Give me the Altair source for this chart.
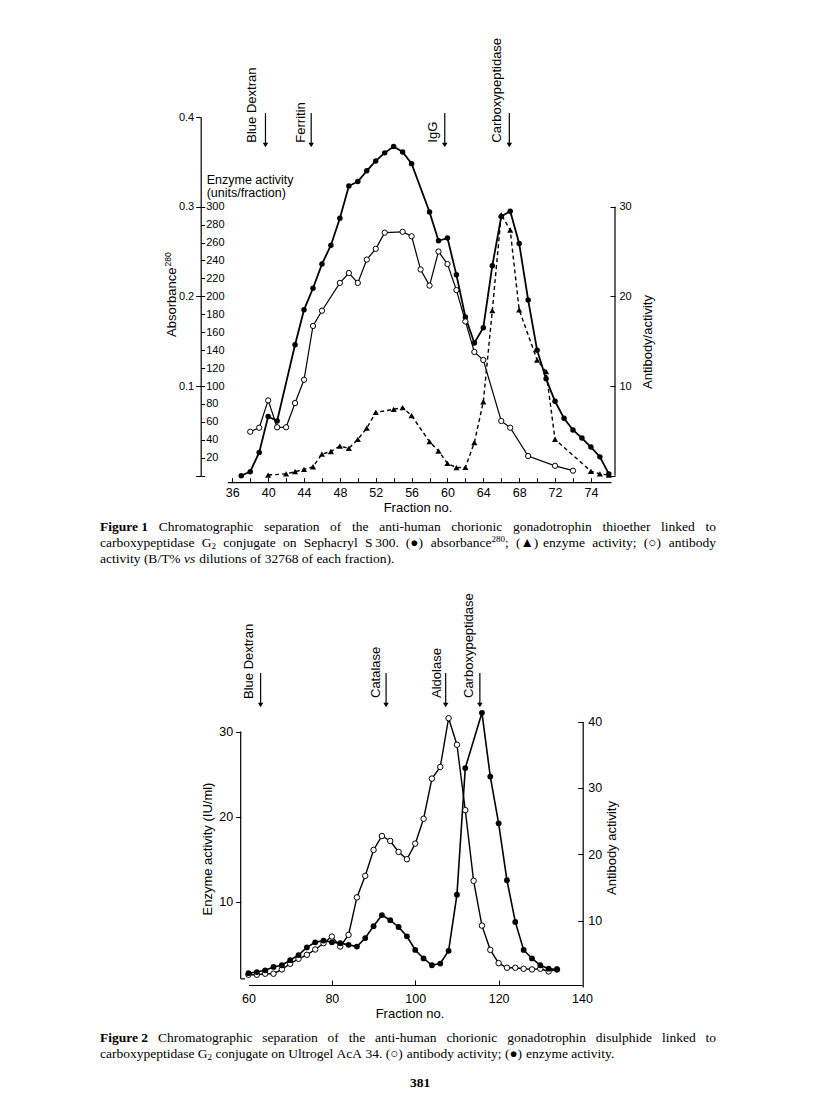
import re
import altair as alt
import pandas as pd

# ---------------- Figure 1 data (Sephacryl S300) ----------------
fig1_abs_fraction = [37, 38, 39, 40, 41, 43, 44, 45, 46, 47, 48, 49, 50, 51, 52, 53, 54, 55, 56,
                     58, 59, 60, 61, 62, 63, 64, 65, 66, 67, 68, 69, 70, 71, 72, 73, 74, 75, 76, 77, 78]
fig1_abs_value = [0.0, 0.0045, 0.026, 0.066, 0.061, 0.146, 0.185, 0.209, 0.236, 0.257, 0.287, 0.323,
                  0.328, 0.340, 0.351, 0.360, 0.367, 0.361, 0.348,
                  0.294, 0.262, 0.265, 0.224, 0.177, 0.148, 0.165, 0.234, 0.289, 0.295, 0.259, 0.196,
                  0.140, 0.108, 0.083, 0.064, 0.051, 0.042, 0.032, 0.021, 0.002]

fig1_ab_fraction = [38, 39, 40, 41, 42, 43, 44, 45, 46, 48, 49, 50, 51, 52, 53, 55, 56, 57, 58, 59,
                    60, 61, 62, 63, 64, 66, 67, 69, 72, 74]
fig1_ab_value = [4.9, 5.35, 8.4, 5.4, 5.4, 8.1, 10.7, 16.7, 18.4, 21.5, 22.6, 21.5, 24.1, 25.3, 27.1,
                 27.2, 26.7, 23.0, 21.2, 25.0, 23.6, 20.7, 17.2, 13.8, 12.9, 6.1, 5.35, 2.2, 1.1, 0.56]

fig1_enz_fraction = [40, 42, 43, 44, 45, 46, 47, 48, 49, 50, 51, 52, 54, 55, 56, 58, 59, 60, 61, 62,
                     63, 64, 65, 66, 67, 68, 70, 71, 72, 76, 77, 78]
fig1_enz_value = [0.7, 2, 4.5, 7, 10, 24, 27, 33, 30.5, 40.5, 53, 70.6, 74, 76, 67, 38, 27.5, 13.8, 9,
                  9.3, 37, 82.5, 184, 291, 274, 185, 129, 116, 40.5, 5, 2, 0.7]

fig1_markers = ["Blue Dextran", "Ferritin", "IgG", "Carboxypeptidase"]
fig1_marker_fraction = [39.7, 44.8, 59.7, 66.9]
fig1_x_ticklabels = [36, 40, 44, 48, 52, 56, 60, 64, 68, 72, 76]

# ---------------- Figure 2 data (Ultrogel AcA 34) ----------------
fig2_enz_fraction = [60, 62, 64, 66, 68, 70, 72, 74, 76, 78, 80, 82, 84, 86, 88, 90, 92, 94, 96, 98,
                     100, 102, 104, 106, 108, 110, 112, 116, 118, 120, 122, 124, 126, 128, 130, 132, 134]
fig2_enz_value = [1.57, 1.7, 1.9, 2.3, 2.5, 3.1, 3.7, 4.6, 5.2, 5.4, 5.2, 5.1, 4.9, 4.7, 5.7, 7.1, 8.4,
                  7.8, 7.0, 5.9, 4.3, 3.3, 2.5, 2.7, 4.2, 10.8, 25.7, 32.2, 24.7, 19.2, 12.5, 7.6, 4.3,
                  3.3, 2.5, 2.1, 2.0]

fig2_ab_fraction = [60, 62, 64, 66, 68, 70, 72, 74, 76, 78, 80, 82, 84, 86, 88, 90, 92, 94, 96, 98,
                    100, 102, 104, 106, 108, 110, 112, 114, 116, 118, 120, 122, 124, 126, 128, 130, 132, 134]
fig2_ab_value = [1.85, 1.85, 2.0, 2.0, 2.65, 3.5, 4.25, 4.85, 5.65, 6.6, 7.6, 6.1, 7.85, 13.5, 16.75,
                 20.65, 22.75, 22.0, 20.35, 19.25, 21.6, 25.35, 31.4, 33.15, 40.5, 36.5, 26.65, 16.0,
                 9.25, 5.6, 3.6, 2.9, 2.9, 2.75, 2.65, 2.75, 2.35, 2.65]

fig2_markers = ["Blue Dextran", "Catalase", "Aldolase", "Carboxypeptidase"]
fig2_marker_fraction = [62.9, 93.0, 107.3, 115.5]

# ---------------- captions (markup: ^{sup}, _{sub}, *italic*) ----------------
cap1 = [("Figure 1", "Chromatographic separation of the anti-human chorionic gonadotrophin thioether linked to", True),
        ("", "carboxypeptidase G_{2} conjugate on Sephacryl S\u2009300. (\u25cf) absorbance^{280}; (\u25b2) enzyme activity; (\u25cb) antibody", True),
        ("", "activity (B/T% *vs* dilutions of 32768 of each fraction).", False)]
cap2 = [("Figure 2", "Chromatographic separation of the anti-human chorionic gonadotrophin disulphide linked to", True),
        ("", "carboxypeptidase G_{2} conjugate on Ultrogel AcA 34. (\u25cb) antibody activity; (\u25cf) enzyme activity.", False)]
page_number = "381"

# ---------------- layout ----------------
W, H = 800, 1101
SANS = "Liberation Sans"
SERIF = "Liberation Serif"


def scale(domain, rng):
    return alt.Scale(domain=domain, range=rng, nice=False, zero=False)


def ax(**kw):
    base = dict(title=None, grid=False, labelFont=SANS, labelColor="black", tickColor="black",
                domainColor="black", labelOverlap=False, labelFlush=False, labelBound=False,
                tickWidth=1, domainWidth=1.2)
    base.update(kw)
    return alt.Axis(**base)


# figure 1 scales
x1 = scale([36, 76], [224.3, 582.9])
y1_abs = scale([0, 0.4], [467.7, 109])
y1_enz = scale([0, 400], [467.7, 109])
y1_ab = scale([0, 40], [467.7, 109])
# figure 2 scales
x2 = scale([60, 140], [240.5, 574])
y2_enz = scale([0, 30], [978.5, 723.5])
y2_ab = scale([0, 40], [979, 713.5])

df_abs1 = pd.DataFrame({"fraction": fig1_abs_fraction, "value": fig1_abs_value})
df_ab1 = pd.DataFrame({"fraction": fig1_ab_fraction, "value": fig1_ab_value})
df_enz1 = pd.DataFrame({"fraction": fig1_enz_fraction, "value": fig1_enz_value})
df_enz2 = pd.DataFrame({"fraction": fig2_enz_fraction, "value": fig2_enz_value})
df_ab2 = pd.DataFrame({"fraction": fig2_ab_fraction, "value": fig2_ab_value})

layers = []

# ---- Figure 1 ----
layers.append(alt.Chart(df_abs1).mark_line(color="black", strokeWidth=1.8).encode(
    x=alt.X("fraction:Q", scale=x1, axis=ax(orient="bottom", offset=474.7 - H, values=fig1_x_ticklabels,
                                          labelExpr="datum.value == 76 ? '74' : datum.label",
                                          ticks=False, domain=False, labelFontSize=12.5, labelPadding=4)),
    y=alt.Y("value:Q", scale=y1_abs, axis=ax(orient="left", offset=-192.7, values=[0, 0.1, 0.2, 0.3, 0.4],
                                           labelExpr="datum.value == 0 ? '' : format(datum.value, '.1f')",
                                           tickSize=5, labelFontSize=11, labelPadding=2))))
layers.append(alt.Chart(df_enz1).mark_line(color="black", strokeWidth=1.4, strokeDash=[4, 3]).encode(
    x=alt.X("fraction:Q", scale=x1, axis=None),
    y=alt.Y("value:Q", scale=y1_enz, axis=ax(orient="right", offset=192.7 - W, values=list(range(0, 320, 20)),
                                           labelExpr="datum.value == 0 ? '' : datum.label",
                                           tickSize=4, domain=False, labelFontSize=11, labelPadding=1))))
layers.append(alt.Chart(df_ab1).mark_line(color="black", strokeWidth=1.2).encode(
    x=alt.X("fraction:Q", scale=x1, axis=None),
    y=alt.Y("value:Q", scale=y1_ab, axis=ax(orient="right", offset=607 - W, values=[10, 20, 30],
                                          ticks=False, domain=False, labelFontSize=11, labelPadding=4))))
# inward ticks for fig 1 x axis and right axis
layers.append(alt.Chart(df_ab1).mark_point(opacity=0).encode(
    x=alt.X("fraction:Q", scale=x1, axis=ax(orient="top", offset=-474.7, values=list(range(36, 78, 2)),
                                          tickSize=5, labels=False, domain=False)),
    y=alt.Y("value:Q", scale=y1_ab, axis=ax(orient="left", offset=-607, values=[0, 10, 20, 30],
                                          tickSize=5, labels=False, domain=False))))
# right axis line (0-30) and x axis line
layers.append(alt.Chart(pd.DataFrame({"lo": [0], "hi": [30]})).mark_rule(color="black", strokeWidth=1.2).encode(
    x=alt.value(607), y=alt.Y("lo:Q", scale=y1_ab, axis=None), y2="hi:Q"))
layers.append(alt.Chart(pd.DataFrame({"lo": [35.5], "hi": [78.3]})).mark_rule(color="black", strokeWidth=1.2).encode(
    x=alt.X("lo:Q", scale=x1, axis=None), x2="hi:Q", y=alt.value(474.7)))
# points
layers.append(alt.Chart(df_enz1).mark_point(shape="triangle-up", filled=True, color="black", size=38, opacity=1).encode(
    x=alt.X("fraction:Q", scale=x1, axis=None), y=alt.Y("value:Q", scale=y1_enz, axis=None)))
layers.append(alt.Chart(df_abs1).mark_point(shape="circle", filled=True, color="black", size=30, opacity=1).encode(
    x=alt.X("fraction:Q", scale=x1, axis=None), y=alt.Y("value:Q", scale=y1_abs, axis=None)))
layers.append(alt.Chart(df_ab1).mark_point(shape="circle", filled=True, fill="white", stroke="black",
                                           strokeWidth=1, size=28, opacity=1).encode(
    x=alt.X("fraction:Q", scale=x1, axis=None), y=alt.Y("value:Q", scale=y1_ab, axis=None)))
# marker arrows
df_m1 = pd.DataFrame({"fraction": fig1_marker_fraction, "name": fig1_markers})
layers.append(alt.Chart(df_m1).mark_rule(color="black", strokeWidth=1.2).encode(
    x=alt.X("fraction:Q", scale=x1, axis=None), y=alt.value(105), y2=alt.value(137)))
layers.append(alt.Chart(df_m1).mark_point(shape="triangle-down", filled=True, color="black", size=30, opacity=1).encode(
    x=alt.X("fraction:Q", scale=x1, axis=None), y=alt.value(137)))

# ---- Figure 2 ----
layers.append(alt.Chart(df_enz2).mark_line(color="black", strokeWidth=1.6).encode(
    x=alt.X("fraction:Q", scale=x2, axis=ax(orient="bottom", offset=977 - H, values=[60, 80, 100, 120, 140],
                                          ticks=False, labelFontSize=12.5, labelPadding=7)),
    y=alt.Y("value:Q", scale=y2_enz, axis=ax(orient="left", offset=-232.7, values=[10, 20, 30],
                                           tickSize=5, domain=False, labelFontSize=12.5, labelPadding=3))))
layers.append(alt.Chart(df_ab2).mark_line(color="black", strokeWidth=1.4).encode(
    x=alt.X("fraction:Q", scale=x2, axis=None),
    y=alt.Y("value:Q", scale=y2_ab, axis=ax(orient="right", offset=574.7 - W, values=[10, 20, 30, 40],
                                          ticks=False, labelFontSize=12.5, labelPadding=5))))
layers.append(alt.Chart(df_ab2).mark_point(opacity=0).encode(
    x=alt.X("fraction:Q", scale=x2, axis=ax(orient="top", offset=-977, values=[80, 100, 120],
                                          tickSize=5, labels=False, domain=False)),
    y=alt.Y("value:Q", scale=y2_ab, axis=ax(orient="left", offset=-574.7, values=[10, 20, 30, 40],
                                          tickSize=5, labels=False, domain=False))))
layers.append(alt.Chart(pd.DataFrame({"lo": [0.9], "hi": [30]})).mark_rule(color="black", strokeWidth=1.2).encode(
    x=alt.value(232.7), y=alt.Y("lo:Q", scale=y2_enz, axis=None), y2="hi:Q"))
layers.append(alt.Chart(pd.DataFrame({"lo": [0.9]})).mark_rule(color="black", strokeWidth=1.2).encode(
    x=alt.value(232.7), x2=alt.value(237), y=alt.Y("lo:Q", scale=y2_enz, axis=None)))
layers.append(alt.Chart(df_ab2).mark_point(shape="circle", filled=True, fill="white", stroke="black",
                                           strokeWidth=1, size=30, opacity=1).encode(
    x=alt.X("fraction:Q", scale=x2, axis=None), y=alt.Y("value:Q", scale=y2_ab, axis=None)))
layers.append(alt.Chart(df_enz2).mark_point(shape="circle", filled=True, color="black", size=34, opacity=1).encode(
    x=alt.X("fraction:Q", scale=x2, axis=None), y=alt.Y("value:Q", scale=y2_enz, axis=None)))
df_m2 = pd.DataFrame({"fraction": fig2_marker_fraction, "name": fig2_markers})
layers.append(alt.Chart(df_m2).mark_rule(color="black", strokeWidth=1.2).encode(
    x=alt.X("fraction:Q", scale=x2, axis=None), y=alt.value(665), y2=alt.value(697)))
layers.append(alt.Chart(df_m2).mark_point(shape="triangle-down", filled=True, color="black", size=30, opacity=1).encode(
    x=alt.X("fraction:Q", scale=x2, axis=None), y=alt.value(697)))


# ---- text annotations ----
def text_layer(rows, **kw):
    df = pd.DataFrame(rows, columns=["x", "y", "t"])
    return alt.Chart(df).mark_text(color="black", **kw).encode(
        x=alt.X("x:Q", scale=None), y=alt.Y("y:Q", scale=None), text="t:N")


# vertical marker labels
layers.append(text_layer([(243.7, 134.7, fig1_markers[0]), (292.7, 134.7, fig1_markers[1]),
                          (425, 134.7, fig1_markers[2]), (488.7, 134.7, fig1_markers[3]),
                          (241.3, 691, fig2_markers[0]), (368, 690, fig2_markers[1]),
                          (428.7, 690, fig2_markers[2]), (461.3, 690, fig2_markers[3])],
                         angle=270, align="left", baseline="middle", font=SANS, fontSize=13))
# vertical axis titles
layers.append(text_layer([(640, 334, "Antibody/activity"),
                          (200, 841, "Enzyme activity (IU/ml)"), (604, 840, "Antibody activity")],
                         angle=270, align="center", baseline="middle", font=SANS, fontSize=13))
layers.append(text_layer([(164, 329, "Absorbance")],
                         angle=270, align="left", baseline="middle", font=SANS, fontSize=13))
layers.append(text_layer([(160, 258.5, "280")],
                         angle=270, align="left", baseline="middle", font=SANS, fontSize=8.5))
# horizontal figure texts
layers.append(text_layer([(198.7, 172, "Enzyme activity"), (198.7, 185, "(units/fraction)")],
                         align="left", baseline="middle", font=SANS, fontSize=12.5))
layers.append(text_layer([(410, 500, "Fraction no."), (402, 1006, "Fraction no.")],
                         align="center", baseline="middle", font=SANS, fontSize=13))

# ---- captions (justified word by word) ----
TW = {' ': 250, 'a': 444, 'b': 500, 'c': 444, 'd': 500, 'e': 444, 'f': 333, 'g': 500, 'h': 500, 'i': 278,
      'j': 278, 'k': 500, 'l': 278, 'm': 778, 'n': 500, 'o': 500, 'p': 500, 'q': 500, 'r': 333, 's': 389,
      't': 278, 'u': 500, 'v': 500, 'w': 722, 'x': 500, 'y': 500, 'z': 444, 'A': 722, 'B': 667, 'C': 667,
      'D': 722, 'E': 611, 'F': 556, 'G': 722, 'H': 722, 'I': 333, 'S': 556, 'T': 611, 'U': 722,
      '.': 250, ',': 250, ';': 278, ':': 278, '-': 333, '(': 333, ')': 333, '/': 278, '%': 833,
      '\u2009': 170, '\u25cf': 640, '\u25b2': 800, '\u25cb': 640}
FS = 13.5
SMALL = 9.0


def seg_width(text, style):
    w = sum(TW.get(c, 500) for c in text) / 1000
    if style in ("sup", "sub"):
        return w * SMALL
    return w * FS * (1.06 if style == "b" else 1.0)


def parse_word(word):
    out = []
    for p in re.findall(r"\^\{[^}]*\}|_\{[^}]*\}|\*[^*]+\*|[^^_*]+", word):
        if p.startswith("^{"):
            out.append((p[2:-1], "sup"))
        elif p.startswith("_{"):
            out.append((p[2:-1], "sub"))
        elif p.startswith("*"):
            out.append((p[1:-1], "i"))
        else:
            out.append((p, "n"))
    return out


def caption_rows(lines, y0, left=92, right=708, lh=16):
    rows = {"n": [], "b": [], "i": [], "sup": [], "sub": []}
    for k, (head, body, justify) in enumerate(lines):
        y = y0 + k * lh
        tokens = ([[(head, "b")]] if head else []) + [parse_word(w) for w in body.split(" ")]
        widths = [sum(seg_width(t, s) for t, s in tok) for tok in tokens]
        if justify and len(tokens) > 1:
            gap = (right - left - sum(widths)) / (len(tokens) - 1)
        else:
            gap = seg_width(" ", "n")
        x = left
        for tok, w in zip(tokens, widths):
            sx = x
            for t, s in tok:
                yy = y - 4.5 if s == "sup" else (y + 3 if s == "sub" else y)
                rows[s].append((sx, yy, t))
                sx += seg_width(t, s)
            x += w + gap
    return rows


r1 = caption_rows(cap1, 519)
r2 = caption_rows(cap2, 1030)
layers.append(text_layer(r1["n"] + r2["n"], align="left", baseline="middle", font=SERIF, fontSize=FS))
layers.append(text_layer(r1["b"] + r2["b"], align="left", baseline="middle", font=SERIF, fontSize=FS,
                         fontWeight="bold"))
layers.append(text_layer(r1["i"] + r2["i"], align="left", baseline="middle", font=SERIF, fontSize=FS,
                         fontStyle="italic"))
layers.append(text_layer(r1["sup"] + r2["sup"] + r1["sub"] + r2["sub"], align="left", baseline="middle",
                         font=SERIF, fontSize=SMALL))
layers.append(text_layer([(412, 1075, page_number)], align="center", baseline="middle", font=SERIF,
                         fontSize=13.5, fontWeight="bold"))

chart = alt.layer(*layers).resolve_scale(x="independent", y="independent").properties(
    width=W, height=H, padding=0, autosize=alt.AutoSizeParams(type="none"),
    background="white"
).configure_view(stroke=None)

chart.save("out.html", embed_options={"renderer": "svg", "actions": False})
